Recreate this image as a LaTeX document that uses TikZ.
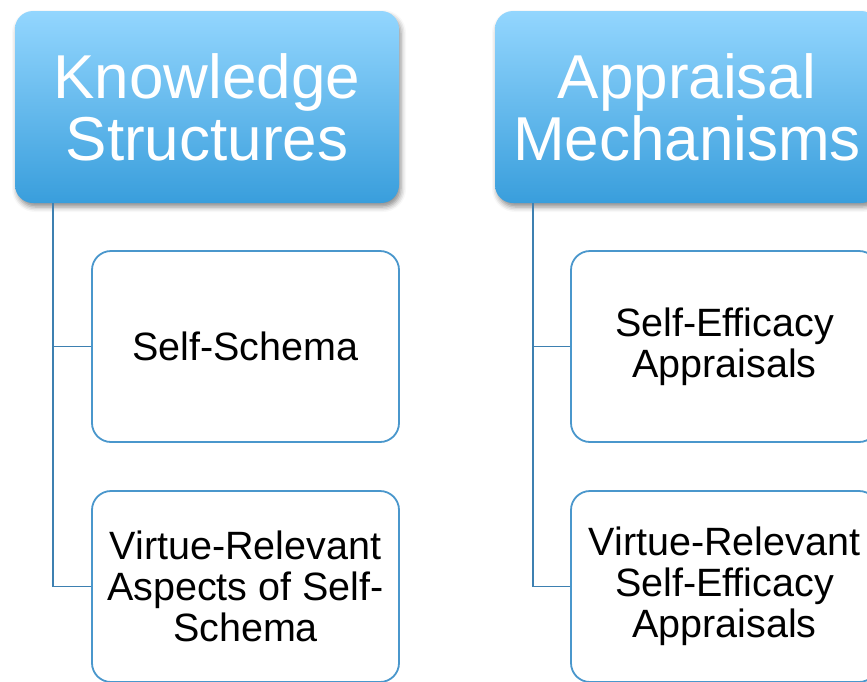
\documentclass[tikz,border=0pt]{standalone}
\usepackage{fontspec}
\setmainfont{Liberation Sans}
\usetikzlibrary{shadows.blur}
\definecolor{hdtop}{RGB}{147,214,254}
\definecolor{hdbot}{RGB}{57,158,220}
\definecolor{childline}{RGB}{74,151,204}
\definecolor{connline}{RGB}{61,128,177}
\tikzset{
  header/.style={rounded corners=18pt, minimum width=384pt, minimum height=192pt,
    top color=hdtop, bottom color=hdbot, draw=none, text=white, align=center,
    font=\fontsize{62}{62}\selectfont,
    blur shadow={shadow xshift=2pt, shadow yshift=-4pt, shadow blur radius=5pt, shadow opacity=45}},
  child/.style={rounded corners=19pt, minimum width=307pt, minimum height=191pt,
    draw=childline, line width=1.8pt, fill=white, align=center, text=black,
    font=\fontsize{39.5}{41}\selectfont},
  conn/.style={draw=connline, line width=1.8pt}
}
\begin{document}
\begin{tikzpicture}[x=1pt,y=1pt]
\useasboundingbox (0,0) rectangle (867,-681);
\begin{scope}
\clip (0,0) rectangle (867,-681);
\node[header] (kh) at (207,-107) {Knowledge\\Structures};
\node[header] (ah) at (687,-107) {Appraisal\\Mechanisms};
\node[child] (k1) at (245.5,-346.5) {Self-Schema};
\node[child] (k2) at (245.5,-586.5) {Virtue-Relevant\\Aspects of Self-\\Schema};
\node[child] (a1) at (724.5,-346.5) {Self-Efficacy\\Appraisals};
\node[child] (a2) at (724.5,-586.5) {Virtue-Relevant\\Self-Efficacy\\Appraisals};
\draw[conn] ([xshift=38pt]kh.south west) |- (k1.west);
\draw[conn] ([xshift=38pt]kh.south west) |- (k2.west);
\draw[conn] ([xshift=38pt]ah.south west) |- (a1.west);
\draw[conn] ([xshift=38pt]ah.south west) |- (a2.west);
\end{scope}
\end{tikzpicture}
\end{document}
